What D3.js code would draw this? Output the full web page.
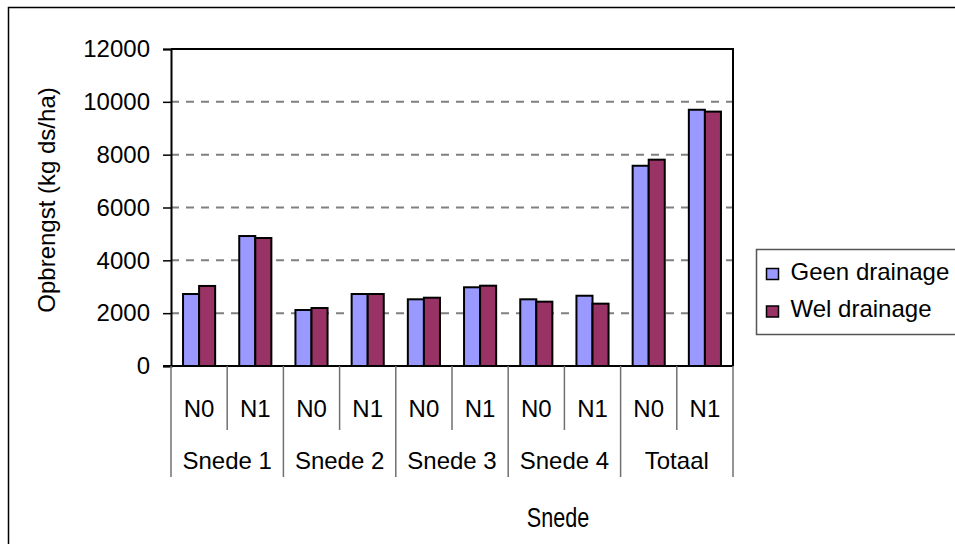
<!DOCTYPE html>
<html>
<head>
<meta charset="utf-8">
<script src="https://cdn.jsdelivr.net/npm/d3@7/dist/d3.min.js"></script>
<style>
  html, body { margin: 0; padding: 0; background: #fff; }
  svg { display: block; }
  text { font-family: "Liberation Sans", Arial, sans-serif; fill: #000; }
</style>
</head>
<body>
<svg id="chart" width="955" height="544"></svg>
<script>
// Opbrengst per snede en N-trap, met en zonder drainage
const groups = ["Snede 1", "Snede 2", "Snede 3", "Snede 4", "Totaal"];
const levels = ["N0", "N1"];
const seriesNames = ["Geen drainage", "Wel drainage"];
const geenDrainage = [2725, 4920, 2120, 2725, 2525, 2980, 2525, 2660, 7580, 9700];
const welDrainage  = [3030, 4845, 2195, 2725, 2585, 3040, 2435, 2360, 7810, 9630];
const yTicks = [0, 2000, 4000, 6000, 8000, 10000, 12000];
const seriesColors = ["#9999FF", "#993366"];

const svg = d3.select("#chart");

// Build the flat category list (group × level)
const categories = [];
groups.forEach(g => levels.forEach(l => categories.push({ group: g, level: l, key: g + "|" + l })));
const rows = categories.map((c, i) => ({ ...c, values: [geenDrainage[i], welDrainage[i]] }));

const plot = { left: 171, right: 733, top: 49, bottom: 366 };

const x0 = d3.scaleBand().domain(categories.map(c => c.key)).range([plot.left, plot.right]).padding(0);
const x1 = d3.scaleBand().domain(seriesNames).range([0, x0.bandwidth()]).paddingInner(0).paddingOuter(0.75);
const y = d3.scaleLinear().domain([0, 12000]).range([plot.bottom, plot.top]);
const color = d3.scaleOrdinal().domain(seriesNames).range(seriesColors);

// Outer chart frame
svg.append("rect")
  .attr("x", 8.5).attr("y", 7.5).attr("width", 960).attr("height", 560)
  .attr("fill", "#fff").attr("stroke", "#000").attr("stroke-width", 1.5);

// Dashed gridlines
svg.append("g").selectAll("line")
  .data(yTicks.filter(t => t > 0 && t < 12000))
  .join("line")
  .attr("x1", plot.left).attr("x2", plot.right)
  .attr("y1", d => y(d)).attr("y2", d => y(d))
  .attr("stroke", "#808080").attr("stroke-width", 2)
  .attr("stroke-dasharray", "8,7");

// Bars
const catG = svg.append("g").selectAll("g")
  .data(rows).join("g")
  .attr("transform", d => `translate(${x0(d.key)},0)`);
catG.selectAll("rect")
  .data(d => d.values.map((v, i) => ({ name: seriesNames[i], value: v })))
  .join("rect")
  .attr("x", d => x1(d.name))
  .attr("width", x1.bandwidth())
  .attr("y", d => y(d.value))
  .attr("height", d => y(0) - y(d.value))
  .attr("fill", d => color(d.name))
  .attr("stroke", "#000").attr("stroke-width", 2);

// Plot frame: top and right edges
svg.append("path")
  .attr("d", `M${plot.left},${plot.top}H${plot.right}V${plot.bottom}`)
  .attr("fill", "none").attr("stroke", "#000").attr("stroke-width", 2);

// Y axis
const yAxis = svg.append("g")
  .attr("transform", `translate(${plot.left},0)`)
  .call(d3.axisLeft(y).tickValues(yTicks).tickFormat(d3.format("d")).tickSize(8).tickPadding(13));
yAxis.select(".domain").attr("stroke", "#000").attr("stroke-width", 2);
yAxis.selectAll(".tick line").attr("stroke", "#000").attr("stroke-width", 1.5);
yAxis.selectAll(".tick text").attr("font-size", "24px").attr("fill", "#000");

// X axis baseline
svg.append("line")
  .attr("x1", plot.left - 8).attr("x2", plot.right)
  .attr("y1", plot.bottom).attr("y2", plot.bottom)
  .attr("stroke", "#000").attr("stroke-width", 2);

// Multi-level category labels
const xAxisG = svg.append("g");
const shortEnd = 430, longEnd = 477;
// separators inside a group
xAxisG.selectAll("line.inner")
  .data(categories.filter(c => c.level !== levels[0]))
  .join("line").attr("class", "inner")
  .attr("x1", d => x0(d.key)).attr("x2", d => x0(d.key))
  .attr("y1", plot.bottom).attr("y2", shortEnd)
  .attr("stroke", "#707070").attr("stroke-width", 1.5);
// separators between groups (and both ends)
const groupEdges = groups.map(g => x0(g + "|" + levels[0])).concat([plot.right]);
xAxisG.selectAll("line.outer")
  .data(groupEdges)
  .join("line").attr("class", "outer")
  .attr("x1", d => d).attr("x2", d => d)
  .attr("y1", plot.bottom).attr("y2", longEnd)
  .attr("stroke", "#707070").attr("stroke-width", 1.5);
xAxisG.selectAll("text.level")
  .data(categories)
  .join("text").attr("class", "level")
  .attr("x", d => x0(d.key) + x0.bandwidth() / 2)
  .attr("y", 416.5)
  .attr("text-anchor", "middle")
  .attr("font-size", "24px")
  .text(d => d.level);
xAxisG.selectAll("text.group")
  .data(groups)
  .join("text").attr("class", "group")
  .attr("x", g => x0(g + "|" + levels[0]) + x0.bandwidth())
  .attr("y", 468.5)
  .attr("text-anchor", "middle")
  .attr("font-size", "24px")
  .text(g => g);

// Axis titles
svg.append("text")
  .attr("transform", "translate(55,200) rotate(-90)")
  .attr("text-anchor", "middle")
  .attr("font-size", "24px")
  .text("Opbrengst (kg ds/ha)");
// narrow title face
svg.append("text")
  .attr("transform", "translate(558,527) scale(0.8,1)")
  .attr("text-anchor", "middle")
  .attr("font-size", "27px")
  .text("Snede");

// Legend
const legend = svg.append("g").attr("transform", "translate(756.5,249.5)");
legend.append("rect")
  .attr("width", 260).attr("height", 85)
  .attr("fill", "#fff").attr("stroke", "#555").attr("stroke-width", 1.5);
const li = legend.selectAll("g.item").data(seriesNames).join("g")
  .attr("class", "item")
  .attr("transform", (d, i) => `translate(10,${19 + i * 37.5})`);
li.append("rect")
  .attr("width", 12).attr("height", 11)
  .attr("fill", d => color(d)).attr("stroke", "#000").attr("stroke-width", 1.5);
li.append("text")
  .attr("x", 24).attr("y", 11)
  .attr("font-size", "24px")
  .text(d => d);
</script>
</body>
</html>
